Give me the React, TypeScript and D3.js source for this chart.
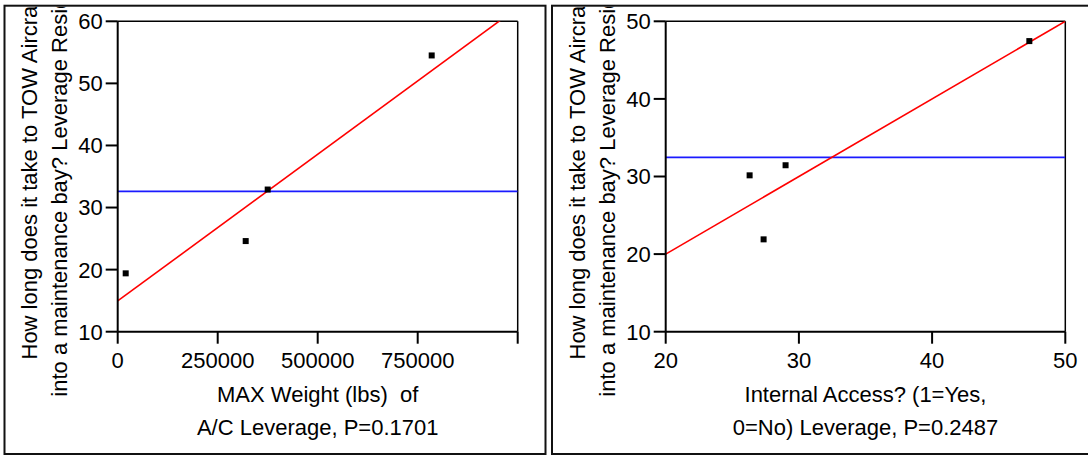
import React from "react";
import * as d3 from "d3";

// ---- data ----
const leftX = [20000, 320000, 375000, 785000];
const leftY = [19.4, 24.6, 32.9, 54.5];
const leftMean = 32.6;
const leftFit = { intercept: 14.95, slope: 4.726e-5 };
const leftXTicks = [0, 250000, 500000, 750000, 1000000];
const leftXTickLabels = ["0", "250000", "500000", "750000", ""];
const leftYTicks = [10, 20, 30, 40, 50, 60];
const leftXLabel = ["MAX Weight (lbs)  of", "A/C Leverage, P=0.1701"];

const rightX = [26.3, 27.35, 29.0, 47.3];
const rightY = [30.15, 21.9, 31.45, 47.45];
const rightMean = 32.47;
const rightFit = { intercept: 0, slope: 1 };
const rightXTicks = [20, 30, 40, 50];
const rightXTickLabels = ["20", "30", "40", "50"];
const rightYTicks = [10, 20, 30, 40, 50];
const rightXLabel = ["Internal Access? (1=Yes,", "0=No) Leverage, P=0.2487"];

const yLabel = [
  "How long does it take to TOW Aircraft",
  "into a maintenance bay? Leverage Residuals",
];

const FONT = "'Liberation Sans', Arial, Helvetica, sans-serif";
const FS = 22;

type PanelProps = {
  id: string;
  frame: { x: number; y: number; w: number; h: number };
  plot: { x0: number; x1: number; y0: number; y1: number };
  xDomain: [number, number];
  yDomain: [number, number];
  xs: number[];
  ys: number[];
  mean: number;
  fit: { intercept: number; slope: number };
  xTicks: number[];
  xTickLabels: string[];
  yTicks: number[];
  xLabel: string[];
};

function Panel(p: PanelProps) {
  const x = d3.scaleLinear().domain(p.xDomain).range([p.plot.x0, p.plot.x1]);
  const y = d3.scaleLinear().domain(p.yDomain).range([p.plot.y1, p.plot.y0]);
  const line = d3
    .line<number>()
    .x((d) => x(d))
    .y((d) => y(p.fit.intercept + p.fit.slope * d));
  const cx = (p.plot.x0 + p.plot.x1) / 2;
  const cy = (p.plot.y0 + p.plot.y1) / 2;
  const tick = 12;
  return (
    <g>
      <defs>
        <clipPath id={`plot-${p.id}`}>
          <rect x={p.plot.x0} y={p.plot.y0} width={p.plot.x1 - p.plot.x0} height={p.plot.y1 - p.plot.y0} />
        </clipPath>
        <clipPath id={`frame-${p.id}`}>
          <rect x={p.frame.x + 1} y={p.frame.y + 1} width={p.frame.w - 2} height={p.frame.h - 2} />
        </clipPath>
      </defs>
      <rect x={p.frame.x} y={p.frame.y} width={p.frame.w} height={p.frame.h} fill="none" stroke="#111" strokeWidth={2} />
      {/* frame top/right */}
      <line x1={p.plot.x0} x2={p.plot.x1} y1={p.plot.y0} y2={p.plot.y0} stroke="#000" strokeWidth={1.5} />
      <line x1={p.plot.x1} x2={p.plot.x1} y1={p.plot.y0} y2={p.plot.y1} stroke="#000" strokeWidth={1.5} />
      {/* fit lines */}
      <g clipPath={`url(#plot-${p.id})`}>
        <line x1={p.plot.x0} x2={p.plot.x1} y1={y(p.mean)} y2={y(p.mean)} stroke="#1a1aff" strokeWidth={1.6} />
        <path d={line(p.xDomain) || ""} fill="none" stroke="#ff0000" strokeWidth={1.6} />
      </g>
      {/* points */}
      {p.xs.map((v, i) => (
        <rect key={i} x={x(v) - 3} y={y(p.ys[i]) - 3} width={6} height={6} fill="#000" />
      ))}
      {/* axes */}
      <line x1={p.plot.x0} x2={p.plot.x0} y1={p.plot.y0} y2={p.plot.y1} stroke="#000" strokeWidth={2} />
      <line x1={p.plot.x0} x2={p.plot.x1} y1={p.plot.y1} y2={p.plot.y1} stroke="#000" strokeWidth={2} />
      {p.yTicks.map((t) => (
        <g key={`y${t}`}>
          <line x1={p.plot.x0 - tick} x2={p.plot.x0} y1={y(t)} y2={y(t)} stroke="#000" strokeWidth={2} />
          <text x={p.plot.x0 - tick - 3} y={y(t)} dy="0.36em" textAnchor="end" fontSize={FS} fontFamily={FONT} fill="#000">
            {t}
          </text>
        </g>
      ))}
      {p.xTicks.map((t, i) => (
        <g key={`x${t}`}>
          <line x1={x(t)} x2={x(t)} y1={p.plot.y1} y2={p.plot.y1 + tick} stroke="#000" strokeWidth={2} />
          <text x={x(t)} y={p.plot.y1 + 36} textAnchor="middle" fontSize={FS} fontFamily={FONT} fill="#000">
            {p.xTickLabels[i]}
          </text>
        </g>
      ))}
      {/* x label */}
      {p.xLabel.map((s, i) => (
        <text key={i} x={cx} y={402 + i * 33} textAnchor="middle" fontSize={FS} fontFamily={FONT} fill="#000" style={{ whiteSpace: "pre" }}>
          {s}
        </text>
      ))}
      {/* y label */}
      <g clipPath={`url(#frame-${p.id})`}>
        {yLabel.map((s, i) => (
          <text
            key={i}
            transform={`translate(${p.plot.x0 - 80.5 + i * 30},${cy}) rotate(-90)`}
            textAnchor="middle"
            fontSize={FS}
            fontFamily={FONT}
            fill="#000"
          >
            {s}
          </text>
        ))}
      </g>
    </g>
  );
}

export default function App() {
  return (
    <svg width={1088} height={456} style={{ position: "absolute", left: 0, top: 0, background: "#fff" }}>
      <rect x={0} y={0} width={1088} height={456} fill="#fff" />
      <Panel
        id="l"
        frame={{ x: 4.5, y: 5.7, w: 541, h: 448.3 }}
        plot={{ x0: 117.7, x1: 517.7, y0: 21.3, y1: 331.7 }}
        xDomain={[0, 1000000]}
        yDomain={[10, 60]}
        xs={leftX}
        ys={leftY}
        mean={leftMean}
        fit={leftFit}
        xTicks={leftXTicks}
        xTickLabels={leftXTickLabels}
        yTicks={leftYTicks}
        xLabel={leftXLabel}
      />
      <Panel
        id="r"
        frame={{ x: 552, y: 5.7, w: 545, h: 448.3 }}
        plot={{ x0: 665.7, x1: 1065.3, y0: 21.3, y1: 331.7 }}
        xDomain={[20, 50]}
        yDomain={[10, 50]}
        xs={rightX}
        ys={rightY}
        mean={rightMean}
        fit={rightFit}
        xTicks={rightXTicks}
        xTickLabels={rightXTickLabels}
        yTicks={rightYTicks}
        xLabel={rightXLabel}
      />
    </svg>
  );
}
